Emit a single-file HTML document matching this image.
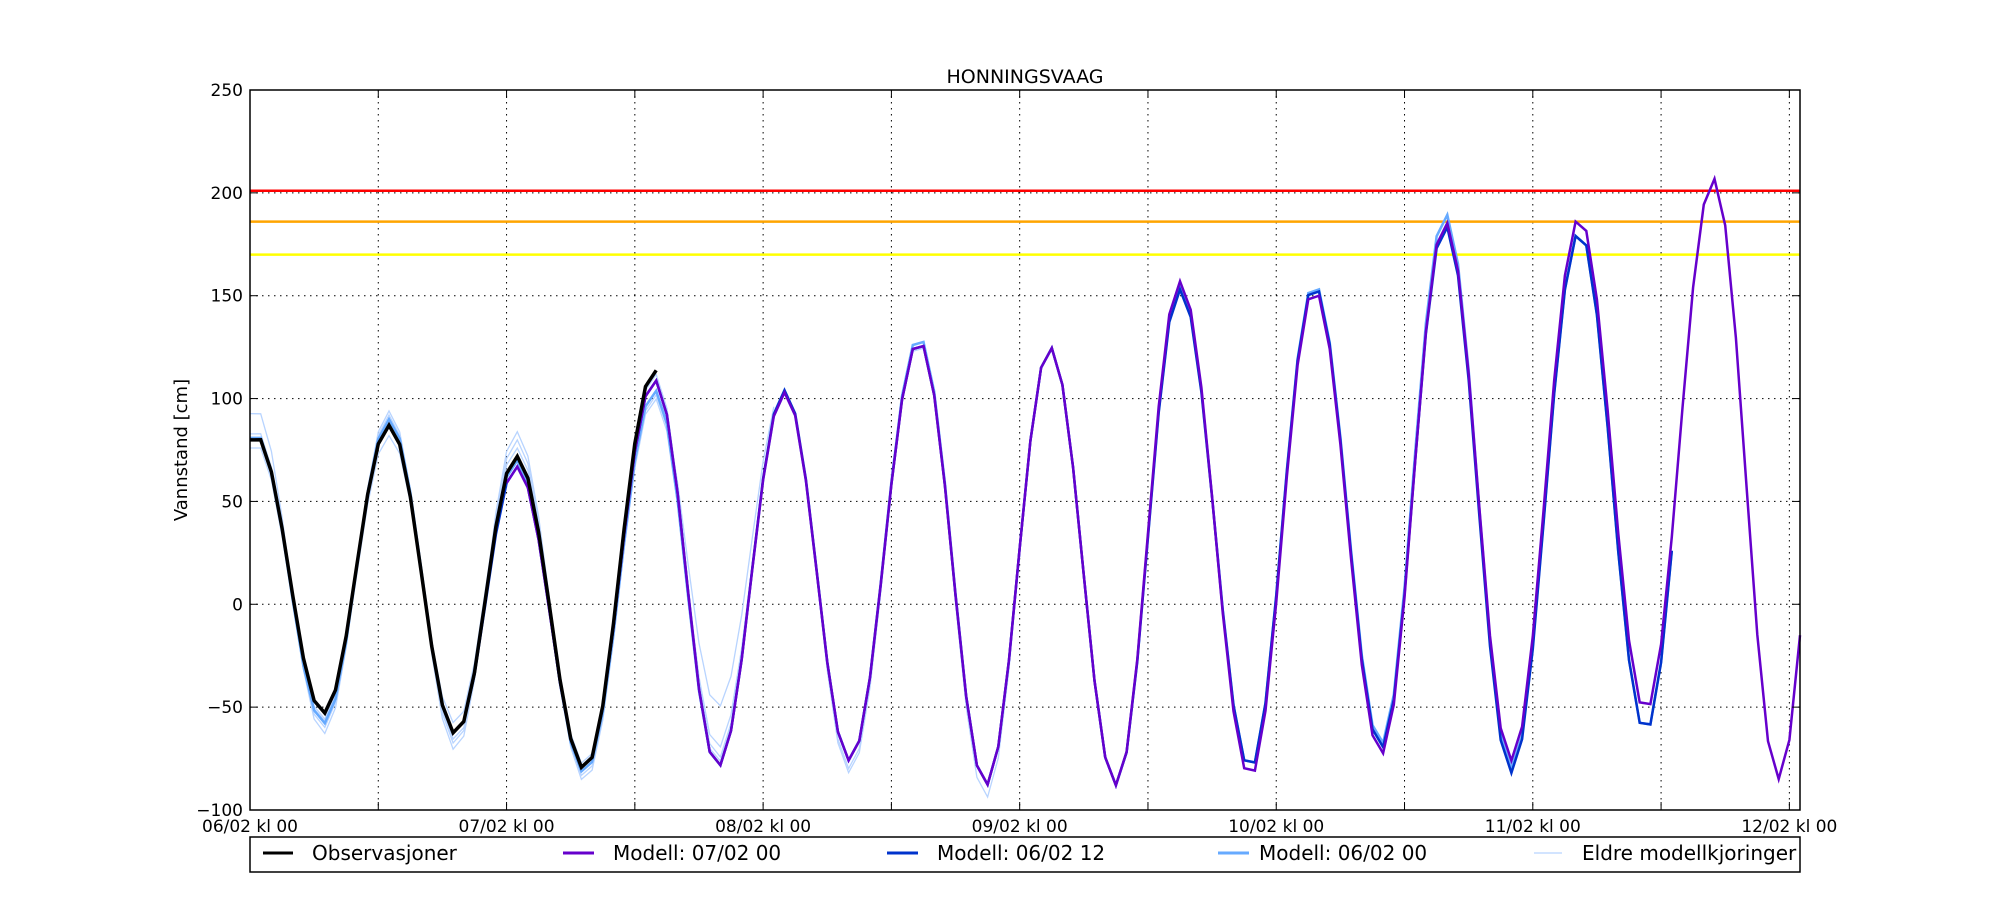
<!DOCTYPE html>
<html><head><meta charset="utf-8"><style>
html,body{margin:0;padding:0;background:#fff;}
svg text{font-family:"DejaVu Sans","Liberation Sans",sans-serif;}
</style></head><body>
<svg id="s" width="2000" height="900" viewBox="0 0 2000 900" xmlns="http://www.w3.org/2000/svg">
<rect width="2000" height="900" fill="#fff"/>
<g id="grid"></g>
<g id="lines"></g>
<rect x="250" y="90" width="1550" height="720" fill="none" stroke="#000" stroke-width="1.5"/>
<g id="ticks"></g>
<text x="1025" y="83" font-size="19" text-anchor="middle">HONNINGSVAAG</text>
<text x="187" y="450" font-size="18" text-anchor="middle" transform="rotate(-90 187 450)">Vannstand [cm]</text>
<rect x="250" y="837" width="1550" height="35" fill="#fff" stroke="#000" stroke-width="1.5"/>
<line x1="263" y1="853" x2="293" y2="853" stroke="#000" stroke-width="3"/>
<text x="312" y="860" font-size="20">Observasjoner</text>
<line x1="563" y1="853" x2="594" y2="853" stroke="#6600cc" stroke-width="3"/>
<text x="613" y="860" font-size="20">Modell: 07/02 00</text>
<line x1="887" y1="853" x2="918" y2="853" stroke="#0033cc" stroke-width="3"/>
<text x="937" y="860" font-size="20">Modell: 06/02 12</text>
<line x1="1218" y1="853" x2="1249" y2="853" stroke="#66aaff" stroke-width="3"/>
<text x="1259" y="860" font-size="20">Modell: 06/02 00</text>
<line x1="1534" y1="853" x2="1562" y2="853" stroke="#b8d4ff" stroke-width="1.2"/>
<text x="1582" y="860" font-size="20">Eldre modellkjoringer</text>
</svg>
<script>
var NS="http://www.w3.org/2000/svg";
var PX=10.69, TMAX=1550/PX;
function X(t){return 250+t*PX;}
function Y(v){return 90+(250-v)*2.0571;}
function el(p,tag,a,txt){var e=document.createElementNS(NS,tag);for(var k in a)e.setAttribute(k,a[k]);if(txt!==undefined)e.textContent=txt;document.getElementById(p).appendChild(e);return e;}
for(var h=12;h<TMAX;h+=12){el("grid","line",{x1:X(h),y1:90,x2:X(h),y2:810,stroke:"#000","stroke-width":1,"stroke-dasharray":"1.5,4.5"});
 el("ticks","line",{x1:X(h),y1:810,x2:X(h),y2:802,stroke:"#000"});el("ticks","line",{x1:X(h),y1:90,x2:X(h),y2:98,stroke:"#000"});}
for(var v=-50;v<250;v+=50){el("grid","line",{x1:250,y1:Y(v),x2:1800,y2:Y(v),stroke:"#000","stroke-width":1,"stroke-dasharray":"1.5,4.5"});
 el("ticks","line",{x1:250,y1:Y(v),x2:258,y2:Y(v),stroke:"#000"});el("ticks","line",{x1:1800,y1:Y(v),x2:1792,y2:Y(v),stroke:"#000"});}
for(var v=-100;v<=250;v+=50){el("ticks","text",{x:243,y:Y(v)+6,"font-size":17,"text-anchor":"end"},(v<0?"\u2212":"")+Math.abs(v));}
var days=["06","07","08","09","10","11","12"];
for(var d=0;d<7;d++){el("ticks","text",{x:X(d*24),y:832,"font-size":17,"text-anchor":"middle"},days[d]+"/02 kl 00");}
[[201,"#ff0000"],[186,"#ffa500"],[170,"#ffff00"]].forEach(function(a){el("lines","line",{x1:250,y1:Y(a[0]),x2:1800,y2:Y(a[0]),stroke:a[1],"stroke-width":2.5});});
var E0=[[-5.7,-50],[0.5,83],[6.9,-53],[13.05,87],[19.3,-63],[25.0,67],[31.4,-80],[38.0,109],[43.9,-79],[50.2,103],[56.3,-76],[62.8,128],[69.1,-88],[75.1,125],[81.3,-88],[87.3,157],[93.9,-84],[99.9,153],[106.2,-73],[112.2,186],[118.4,-77],[124.8,188],[131.0,-52],[137.4,207],[143.5,-85],[149.7,207]];
var E=E0.map(function(p){return [p[0]*0.9964,p[1]];});
function mod(ov){var e=E.map(function(p){return [p[0],p[1]];});for(var k in ov){e[k][1]=ov[k];}return e;}
function val(t,e){for(var i=0;i<e.length-1;i++){if(t>=e[i][0]&&t<=e[i+1][0]){var f=(t-e[i][0])/(e[i+1][0]-e[i][0]);return e[i][1]+(e[i+1][1]-e[i][1])*(1-Math.cos(Math.PI*f))/2;}}return 0;}
function poly(e,t0,t1,col,w){var pts=[];for(var t=t0;t<=t1+1e-6;t+=1){var tt=Math.min(t,TMAX);pts.push(X(tt).toFixed(1)+","+Y(val(tt,e)).toFixed(1));if(tt>=TMAX)break;}
 el("lines","polyline",{points:pts.join(" "),fill:"none",stroke:col,"stroke-width":w,"stroke-linejoin":"miter"});}
var old=[{2:-60,3:92,4:-68,5:80,6:-84,7:104,8:-50,9:106},{1:95,2:-63,3:94,4:-71,5:84,6:-86,7:102,8:-70,9:100},{1:78,2:-57,3:82,4:-58,5:76,6:-78,7:112,8:-75,9:104,10:-80,11:130},{1:85,2:-56,3:90,4:-66,5:70,6:-82,7:100,8:-77,9:105,10:-82,11:127,12:-94,13:124}];
var ends=[49,47,62,74];
old.forEach(function(o,i){poly(mod(o),0,ends[i],"#b8d4ff",1.3);});
poly(mod({2:-58,3:90,5:70,6:-82,7:104,11:130,12:-88,15:154,16:-80,17:156,18:-68,19:190,20:-80,21:181,22:-62}),0,133,"#66aaff",2.5);
poly(mod({9:104,15:153,16:-80,17:155,18:-70,19:184,20:-82,21:181,22:-62}),12,133,"#0033cc",2.5);
poly(mod({20:-76,21:188,22:-52}),24,146,"#6600cc",2.5);
poly(mod({1:82,5:72,7:114}),0,38,"#000",3.5);
</script>
</body></html>
